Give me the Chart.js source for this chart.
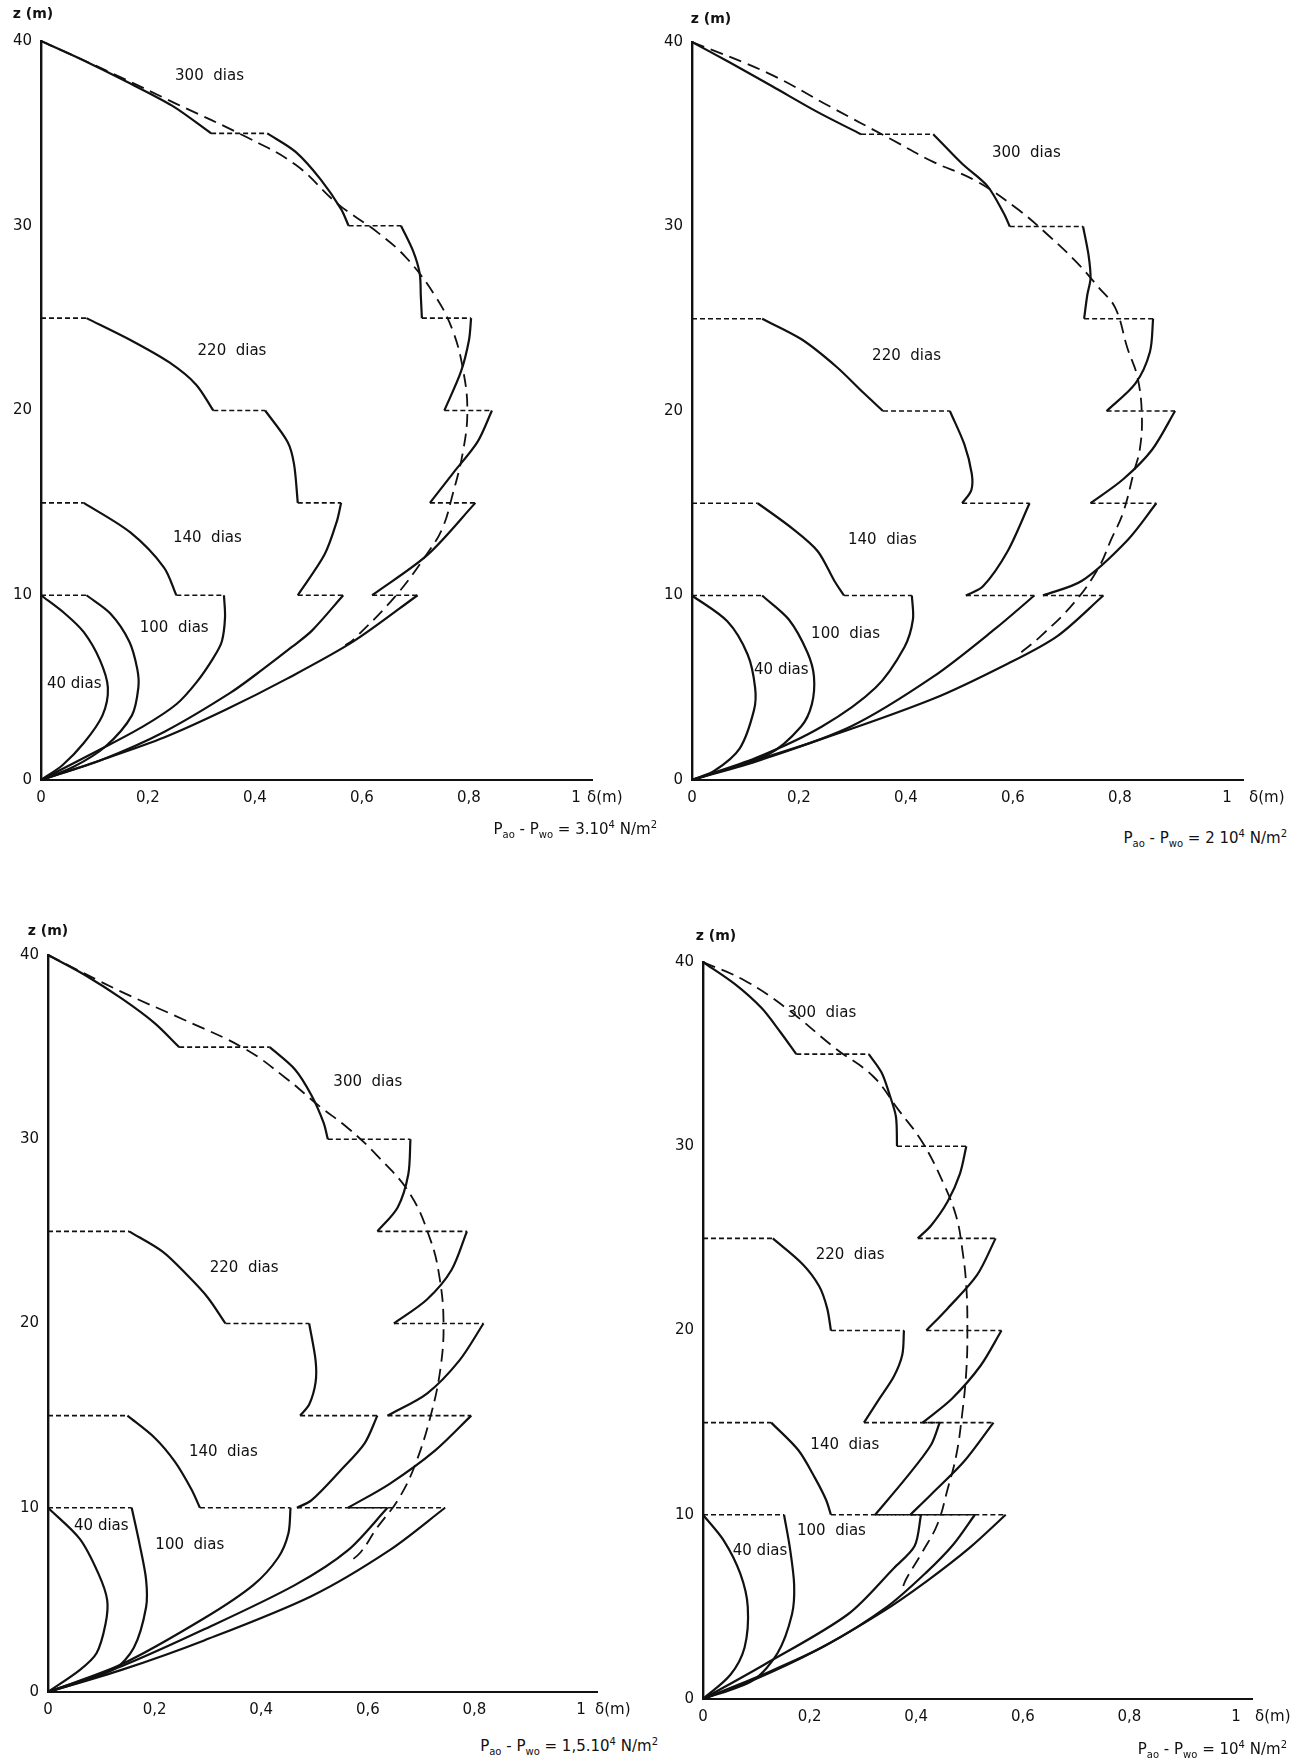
<!DOCTYPE html>
<html>
<head>
<meta charset="utf-8">
<script src="https://cdn.jsdelivr.net/npm/chart.js@4.4.1/dist/chart.umd.min.js"></script>
<style>
  html, body { margin: 0; padding: 0; background: #fff; }
  body { width: 1290px; height: 1761px; position: relative; overflow: hidden; font-family: "DejaVu Sans", sans-serif; color: #111; }
  .panel { position: absolute; }
  .note { position: absolute; font-size: 15px; white-space: nowrap; line-height: 18px; }
  .note sub { font-size: 10px; }
  .note sup { font-size: 10px; }
</style>
</head>
<body>
<div class="panel" id="p1"><canvas id="c1"></canvas></div>
<div class="panel" id="p2"><canvas id="c2"></canvas></div>
<div class="panel" id="p3"><canvas id="c3"></canvas></div>
<div class="panel" id="p4"><canvas id="c4"></canvas></div>
<div class="note" style="right:633px; top:816px;">P<sub>ao</sub> - P<sub>wo</sub> = 3.10<sup>4</sup> N/m<sup>2</sup></div>
<div class="note" style="right:3px; top:825px;">P<sub>ao</sub> - P<sub>wo</sub> = 2 10<sup>4</sup> N/m<sup>2</sup></div>
<div class="note" style="right:632px; top:1733px;">P<sub>ao</sub> - P<sub>wo</sub> = 1,5.10<sup>4</sup> N/m<sup>2</sup></div>
<div class="note" style="right:3px; top:1736px;">P<sub>ao</sub> - P<sub>wo</sub> = 10<sup>4</sup> N/m<sup>2</sup></div>
<script>
// axes
const yTicks = [0, 10, 20, 30, 40];
const xTicks = [0, 0.2, 0.4, 0.6, 0.8, 1];
const xTickLabels = ['0', '0,2', '0,4', '0,6', '0,8', '1'];
const curveNames = ['40 dias', '100  dias', '140  dias', '220  dias', '300  dias'];

// settlement profiles [delta (m), z (m)] ; equal z on consecutive points = dashed step
// top left : 3.10^4 N/m2
const tl40 = [[0,10],[0.045,9],[0.08,8],[0.11,6.5],[0.125,5],[0.115,3.5],[0.08,2],[0.04,0.8],[0,0]];
const tl100 = [[0,10],[0.085,10],[0.13,9],[0.165,7.5],[0.18,6],[0.182,5],[0.17,3.5],[0.12,1.8],[0.06,0.7],[0,0]];
const tl140 = [[0,15],[0.08,15],[0.167,13.4],[0.23,11.5],[0.253,10],[0.342,10],[0.344,8.8],[0.338,7.5],[0.322,6.6],[0.291,5.3],[0.253,4.1],[0.191,2.9],[0.114,1.7],[0,0]];
const tl220 = [[0,25],[0.085,25],[0.168,23.8],[0.24,22.6],[0.29,21.4],[0.322,20],[0.419,20],[0.461,18.3],[0.473,17.1],[0.48,15],[0.561,15],[0.553,14],[0.53,12.2],[0.48,10],[0.565,10],[0.507,8.1],[0.469,7.2],[0.415,6],[0.353,4.7],[0.23,2.6],[0.114,1.1],[0,0]];
const tl300 = [[0,40],[0.076,39],[0.153,37.9],[0.245,36.5],[0.318,35],[0.423,35],[0.476,34],[0.523,32.5],[0.561,30.9],[0.575,30],[0.673,30],[0.696,28.6],[0.708,27.4],[0.71,26.2],[0.712,25],[0.804,25],[0.8,23.8],[0.785,22.1],[0.754,20],[0.843,20],[0.816,18.3],[0.77,16.6],[0.727,15],[0.812,15],[0.723,12.2],[0.619,10],[0.704,10],[0.584,7.5],[0.461,5.5],[0.345,3.8],[0.23,2.3],[0.114,1.1],[0,0]];
const tlEnv = [[0,40],[0.137,38.2],[0.253,36.6],[0.384,34.8],[0.476,33.3],[0.554,31.2],[0.631,29.6],[0.685,28.2],[0.739,26.1],[0.77,24.3],[0.789,22.2],[0.797,20],[0.789,17.8],[0.769,15.4],[0.75,13.6],[0.723,12.3],[0.661,9.9],[0.584,7.6],[0.569,7.3]];
const tlLabels = [[0.062,5.2],[0.249,8.2],[0.311,13.1],[0.357,23.2],[0.315,38.1]];

// top right : 2 10^4 N/m2
const tr40 = [[0,10],[0.066,8.6],[0.104,6.8],[0.118,5],[0.116,3.8],[0.089,1.7],[0.042,0.5],[0,0]];
const tr100 = [[0,10],[0.131,10],[0.181,8.7],[0.216,6.9],[0.228,5.6],[0.224,4.1],[0.204,2.9],[0.143,1.4],[0,0]];
const tr140 = [[0,15],[0.123,15],[0.189,13.6],[0.235,12.4],[0.266,10.8],[0.284,10],[0.411,10],[0.413,8.7],[0.397,7.2],[0.343,5],[0.243,2.9],[0.12,1.2],[0,0]];
const tr220 = [[0,25],[0.131,25],[0.204,23.9],[0.27,22.4],[0.32,21],[0.357,20],[0.482,20],[0.509,18.2],[0.523,16.6],[0.522,15.7],[0.505,15],[0.631,15],[0.59,12.4],[0.544,10.5],[0.512,10],[0.64,10],[0.567,8.2],[0.451,5.6],[0.297,2.9],[0.13,1.1],[0,0]];
const tr300 = [[0,40],[0.07,38.9],[0.15,37.6],[0.235,36.2],[0.316,35],[0.451,35],[0.505,33.4],[0.552,32.2],[0.583,30.7],[0.594,30],[0.731,30],[0.741,28.5],[0.745,27.2],[0.739,26.3],[0.733,25],[0.862,25],[0.856,23.2],[0.829,21.5],[0.775,20],[0.903,20],[0.86,17.9],[0.806,16.3],[0.745,15],[0.868,15],[0.814,13],[0.729,10.8],[0.656,10],[0.769,10],[0.683,7.8],[0.59,6.3],[0.451,4.4],[0.22,2],[0,0]];
const trEnv = [[0,40],[0.143,38.3],[0.258,36.5],[0.374,34.7],[0.451,33.5],[0.529,32.5],[0.606,31],[0.667,29.5],[0.721,28],[0.76,26.7],[0.791,25.6],[0.814,23.4],[0.833,21.8],[0.841,19.7],[0.837,17.9],[0.826,16.7],[0.806,14.5],[0.783,13],[0.76,11.5],[0.714,9.6],[0.652,7.8],[0.606,6.7]];
const trLabels = [[0.167,5.95],[0.287,7.9],[0.356,13],[0.401,23],[0.625,34]];

// bottom left : 1,5.10^4 N/m2
const bl40 = [[0,10],[0.06,8.3],[0.095,6.4],[0.111,5],[0.108,3.7],[0.091,2.1],[0.06,1.2],[0,0]];
const bl100 = [[0,10],[0.157,10],[0.172,8],[0.184,6.1],[0.184,4.6],[0.161,2.4],[0.122,1.2],[0,0]];
const bl140 = [[0,15],[0.149,15],[0.2,13.8],[0.238,12.5],[0.269,11],[0.285,10],[0.455,10],[0.451,8.6],[0.432,7.3],[0.385,5.8],[0.293,4],[0.138,1.5],[0,0]];
const bl220 = [[0,25],[0.152,25],[0.215,23.9],[0.262,22.6],[0.3,21.4],[0.333,20],[0.49,20],[0.502,18],[0.502,16.8],[0.49,15.6],[0.473,15],[0.618,15],[0.594,13.5],[0.548,12],[0.494,10.4],[0.467,10],[0.637,10],[0.563,7.7],[0.463,5.8],[0.293,3.4],[0.138,1.4],[0,0]];
const bl300 = [[0,40],[0.07,38.9],[0.14,37.6],[0.2,36.3],[0.246,35],[0.416,35],[0.463,33.8],[0.494,32.4],[0.517,30.9],[0.525,30],[0.68,30],[0.676,28.1],[0.656,26.3],[0.618,25],[0.786,25],[0.757,22.9],[0.711,21.3],[0.649,20],[0.817,20],[0.772,18],[0.711,16.2],[0.637,15],[0.794,15],[0.726,13.1],[0.641,11.3],[0.563,10],[0.745,10],[0.641,7.7],[0.494,5.2],[0.293,2.8],[0.138,1.2],[0,0]];
const blEnv = [[0,40],[0.138,38],[0.254,36.5],[0.37,34.9],[0.447,33.3],[0.509,31.8],[0.563,30.6],[0.618,29.1],[0.68,27],[0.718,24.5],[0.734,22.6],[0.742,20.2],[0.737,17.7],[0.718,15],[0.687,12.2],[0.656,10.4],[0.617,8.9],[0.587,7.6],[0.563,7]];
const blLabels = [[0.1,9],[0.266,7.95],[0.329,13],[0.368,23],[0.6,33.1]];

// bottom right : 10^4 N/m2
const br40 = [[0,10],[0.039,8.6],[0.07,6.8],[0.084,5],[0.078,2.8],[0.051,1.3],[0,0]];
const br100 = [[0,10],[0.152,10],[0.163,8.2],[0.171,6.2],[0.167,4.6],[0.14,2.5],[0.093,1],[0,0]];
const br140 = [[0,15],[0.128,15],[0.179,13.5],[0.21,12],[0.231,10.8],[0.24,10],[0.409,10],[0.397,8.3],[0.358,7.1],[0.272,4.6],[0.117,1.9],[0,0]];
const br220 = [[0,25],[0.131,25],[0.187,23.6],[0.218,22.4],[0.233,21.2],[0.24,20],[0.377,20],[0.374,18.7],[0.358,17.5],[0.331,16.3],[0.302,15],[0.444,15],[0.428,13.8],[0.381,12],[0.323,10],[0.51,10],[0.47,8.4],[0.42,6.9],[0.345,5],[0.23,2.9],[0.11,1.3],[0,0]];
const br300 = [[0,40],[0.06,38.8],[0.11,37.5],[0.145,36.2],[0.175,35],[0.311,35],[0.335,34],[0.35,32.8],[0.362,31.6],[0.364,30],[0.494,30],[0.482,28.5],[0.459,27],[0.428,25.7],[0.403,25],[0.549,25],[0.514,23],[0.459,21.2],[0.419,20],[0.56,20],[0.521,18.1],[0.467,16.3],[0.412,15],[0.545,15],[0.49,12.9],[0.428,11.1],[0.389,10],[0.568,10],[0.5,8.2],[0.42,6.4],[0.335,4.7],[0.21,2.6],[0.1,1.1],[0,0]];
const brEnv = [[0,40],[0.078,39],[0.156,37.5],[0.249,35.3],[0.319,33.8],[0.366,32],[0.412,30.2],[0.451,28],[0.475,26.2],[0.486,24.5],[0.494,22.4],[0.496,19.9],[0.494,17.8],[0.486,15.4],[0.475,13.2],[0.459,11.4],[0.44,9.5],[0.412,8],[0.381,6.5],[0.374,6]];
const brLabels = [[0.107,8],[0.241,9.1],[0.266,13.8],[0.276,24.1],[0.223,37.2]];

// page position of each plot: pixel of delta=0, delta=1, z=0, z=40, plus axis title nudges
const panels = [
  { id: 'c1', x0: 41, x1: 576, y0: 780, y40: 41, zdx: -8, zdy: -27, ddx: -5, curves: [tl40, tl100, tl140, tl220, tl300], env: tlEnv, labels: tlLabels },
  { id: 'c2', x0: 692, x1: 1227, y0: 780, y40: 42, zdx: 19, zdy: -23, ddx: 6, curves: [tr40, tr100, tr140, tr220, tr300], env: trEnv, labels: trLabels },
  { id: 'c3', x0: 48, x1: 581, y0: 1692, y40: 955, zdx: 0, zdy: -24, ddx: -2, curves: [bl40, bl100, bl140, bl220, bl300], env: blEnv, labels: blLabels },
  { id: 'c4', x0: 703, x1: 1236, y0: 1699, y40: 962, zdx: 13, zdy: -26, ddx: 3, curves: [br40, br100, br140, br220, br300], env: brEnv, labels: brLabels }
];

const XMAX = 1.03;
const PAD_L = 45, PAD_T = 45, PAD_R = 60, PAD_B = 40;
const INK = '#111';

Chart.defaults.font.family = '"DejaVu Sans", sans-serif';
Chart.defaults.font.size = 15;
Chart.defaults.color = INK;

// split a profile into solid curved runs and dashed horizontal steps
function pieces(pts) {
    const out = [];
    let run = [pts[0]];
    for (let i = 1; i < pts.length; i++) {
        const a = pts[i - 1], b = pts[i];
        if (a[1] === b[1]) {
            if (run.length > 1) out.push({ dash: false, pts: run });
            out.push({ dash: true, pts: [a, b] });
            run = [b];
        } else {
            run.push(b);
        }
    }
    if (run.length > 1) out.push({ dash: false, pts: run });
    return out;
}

const toXY = pts => pts.map(p => ({ x: p[0], y: p[1] }));

const textPlugin = {
    id: 'texts',
    afterDatasetsDraw(chart, args, opts) {
        const { ctx, chartArea, scales: { x, y } } = chart;
        ctx.save();
        ctx.fillStyle = INK;
        ctx.textAlign = 'center';
        ctx.textBaseline = 'middle';
        ctx.font = '15px "DejaVu Sans", sans-serif';
        opts.labels.forEach((p, i) => {
            ctx.fillText(curveNames[i], x.getPixelForValue(p[0]), y.getPixelForValue(p[1]));
        });
        ctx.font = 'bold 14px "DejaVu Sans", sans-serif';
        ctx.fillText('z (m)', chartArea.left + opts.zdx, chartArea.top + opts.zdy);
        ctx.font = '15px "DejaVu Sans", sans-serif';
        ctx.textAlign = 'left';
        ctx.fillText('δ(m)', chartArea.right + opts.ddx, chartArea.bottom + 18);
        ctx.restore();
    }
};

panels.forEach(p => {
    const plotW = (p.x1 - p.x0) * XMAX;
    const plotH = p.y0 - p.y40;
    const W = Math.round(PAD_L + plotW + PAD_R);
    const H = Math.round(PAD_T + plotH + PAD_B);
    const canvas = document.getElementById(p.id);
    const box = canvas.parentElement;
    box.style.left = (p.x0 - PAD_L) + 'px';
    box.style.top = (p.y40 - PAD_T) + 'px';
    box.style.width = W + 'px';
    box.style.height = H + 'px';
    canvas.width = W;
    canvas.height = H;

    const datasets = [];
    p.curves.forEach(c => {
        pieces(c).forEach(pc => {
            datasets.push({
                data: toXY(pc.pts),
                showLine: true,
                borderColor: INK,
                borderWidth: pc.dash ? 1.6 : 2.2,
                borderDash: pc.dash ? [5, 3] : [],
                tension: pc.dash ? 0 : 0.3,
                pointRadius: 0,
                clip: false
            });
        });
    });
    datasets.push({
        data: toXY(p.env),
        showLine: true,
        borderColor: INK,
        borderWidth: 1.8,
        borderDash: [13, 7],
        tension: 0.4,
        pointRadius: 0,
        clip: false
    });

    new Chart(canvas.getContext('2d'), {
        type: 'scatter',
        data: { datasets },
        plugins: [textPlugin],
        options: {
            responsive: false,
            animation: false,
            events: [],
            layout: { padding: { left: 0, top: PAD_T, right: PAD_R, bottom: 0 } },
            elements: { line: { capBezierPoints: false } },
            plugins: {
                legend: { display: false },
                tooltip: { enabled: false },
                texts: { labels: p.labels, zdx: p.zdx, zdy: p.zdy, ddx: p.ddx }
            },
            scales: {
                x: {
                    type: 'linear',
                    min: 0,
                    max: XMAX,
                    afterBuildTicks: s => { s.ticks = xTicks.map(v => ({ value: v })); },
                    afterFit: s => { s.height = PAD_B; },
                    grid: { display: false, drawTicks: false },
                    border: { display: true, color: INK, width: 2 },
                    ticks: {
                        padding: 9,
                        maxRotation: 0,
                        autoSkip: false,
                        callback: v => xTickLabels[xTicks.indexOf(v)]
                    }
                },
                y: {
                    type: 'linear',
                    min: 0,
                    max: 40,
                    afterBuildTicks: s => { s.ticks = yTicks.map(v => ({ value: v })); },
                    afterFit: s => { s.width = PAD_L; },
                    grid: { display: false, drawTicks: false },
                    border: { display: true, color: INK, width: 2.4 },
                    ticks: { padding: 9, autoSkip: false }
                }
            }
        }
    });
});
</script>
</body>
</html>
